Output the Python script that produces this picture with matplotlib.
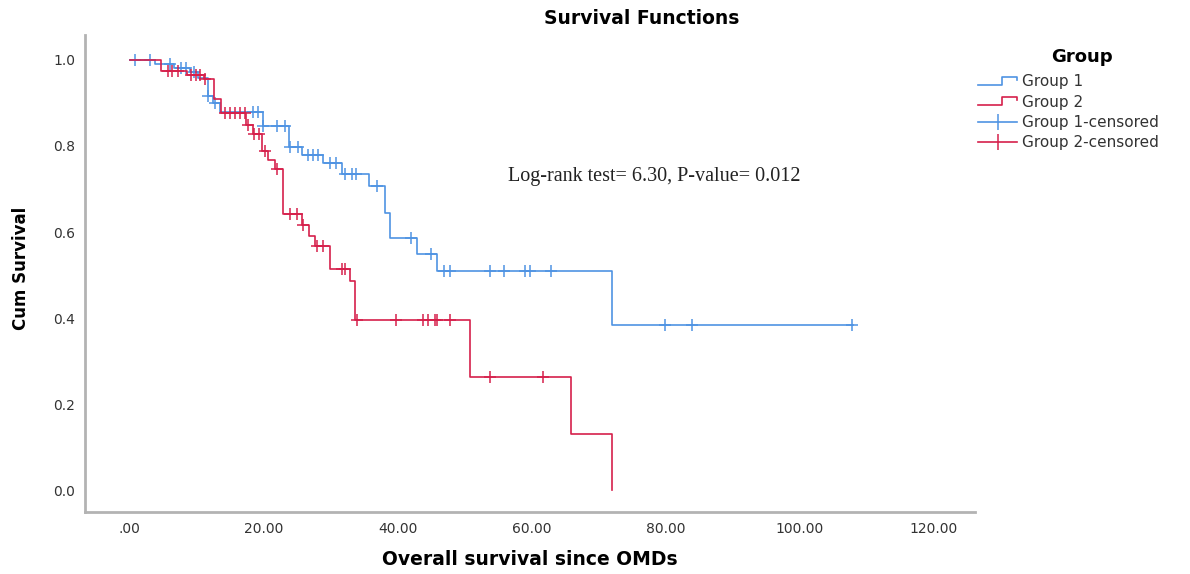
import numpy as np
import matplotlib
matplotlib.use("Agg")
import matplotlib.pyplot as plt
from matplotlib.lines import Line2D
from matplotlib.legend_handler import HandlerBase

# ---------------- data ----------------
g1_event_t = [3.7, 6.6, 9.0, 10.2, 11.6, 12.4, 13.4, 19.9, 23.8, 25.7, 28.9,
              31.6, 35.7, 38.1, 38.8, 42.8, 45.8, 72.0]
g1_event_s = [0.990, 0.982, 0.972, 0.958, 0.916, 0.899, 0.879, 0.847, 0.798,
              0.779, 0.760, 0.734, 0.707, 0.645, 0.585, 0.550, 0.509, 0.384]
g1_last_t = 108.0
g1_censor_t = [0.75, 3.0, 6.0, 7.6, 8.4, 9.6, 11.7, 12.7, 18.4, 19.1, 19.9,
               21.9, 23.1, 23.9, 25.1, 26.6, 27.3, 28.1, 29.9, 30.8, 32.1,
               33.1, 33.8, 36.9, 42.0, 45.0, 46.9, 47.8, 53.8, 55.8, 59.0,
               59.7, 62.9, 79.9, 83.9, 107.8]

g2_event_t = [4.6, 8.5, 11.0, 12.6, 13.6, 17.4, 18.4, 19.7, 20.6, 21.6, 22.9,
              25.7, 26.8, 27.6, 29.9, 32.8, 33.6, 50.8, 65.8, 71.9]
g2_event_s = [0.975, 0.964, 0.955, 0.909, 0.877, 0.848, 0.829, 0.788, 0.767,
              0.746, 0.641, 0.616, 0.591, 0.567, 0.513, 0.486, 0.395, 0.263,
              0.131, 0.0]
g2_censor_t = [5.7, 6.3, 7.2, 9.2, 9.9, 10.4, 11.2, 14.2, 14.9, 15.7, 16.4,
               17.2, 17.6, 18.6, 19.3, 20.2, 22.0, 23.9, 24.9, 25.9, 27.9,
               28.9, 31.6, 32.1, 33.9, 39.8, 43.8, 44.5, 45.5, 45.9, 47.8,
               53.7, 61.6]

x_ticks = [0, 20, 40, 60, 80, 100, 120]
x_tick_labels = [".00", "20.00", "40.00", "60.00", "80.00", "100.00", "120.00"]
y_ticks = [0.0, 0.2, 0.4, 0.6, 0.8, 1.0]
y_tick_labels = ["0.0", "0.2", "0.4", "0.6", "0.8", "1.0"]

group_labels = ["Group 1", "Group 2", "Group 1-censored", "Group 2-censored"]
stat_text = "Log-rank test= 6.30, P-value= 0.012"

# ---------------- style ----------------
BLUE = "#4f93e3"
RED = "#d6204b"
SPINE = "#b3b3b3"

plt.rcParams["font.family"] = ["DejaVu Sans"]


def surv_at(t, ev_t, ev_s):
    s = 1.0
    for et, es in zip(ev_t, ev_s):
        if et <= t:
            s = es
    return s


fig = plt.figure(figsize=(11.9, 5.74), dpi=100)
ax = fig.add_axes([0.0714, 0.108, 0.7476, 0.831])

# group 1 curve
x1 = [0.0] + g1_event_t + [g1_last_t]
y1 = [1.0] + g1_event_s + [g1_event_s[-1]]
ax.step(x1, y1, where="post", color=BLUE, lw=1.2)
c1y = [surv_at(t, g1_event_t, g1_event_s) for t in g1_censor_t]
ax.plot(g1_censor_t, c1y, ls="none", marker="+", ms=9, mew=1.1, color=BLUE)

# group 2 curve
x2 = [0.0] + g2_event_t
y2 = [1.0] + g2_event_s
ax.step(x2, y2, where="post", color=RED, lw=1.2)
c2y = [surv_at(t, g2_event_t, g2_event_s) for t in g2_censor_t]
ax.plot(g2_censor_t, c2y, ls="none", marker="+", ms=9, mew=1.1, color=RED)

ax.set_xlim(-6.7, 126.1)
ax.set_ylim(-0.051, 1.058)
ax.set_xticks(x_ticks)
ax.set_xticklabels(x_tick_labels)
ax.set_yticks(y_ticks)
ax.set_yticklabels(y_tick_labels)
ax.tick_params(length=0, labelsize=10, colors="#333333")
ax.tick_params(axis="x", pad=7)
ax.tick_params(axis="y", pad=7)
for side in ("top", "right"):
    ax.spines[side].set_visible(False)
for side in ("left", "bottom"):
    ax.spines[side].set_color(SPINE)
    ax.spines[side].set_linewidth(2.0)

ax.set_xlabel("Overall survival since OMDs", fontsize=13.5, fontweight="bold",
              va="center")
ax.xaxis.set_label_coords(0.5, -0.1006)
ax.set_ylabel("Cum Survival", fontsize=12, fontweight="bold")
ax.yaxis.set_label_coords(-0.062, 0.511)
fig.suptitle("Survival Functions", x=0.539, y=0.985, fontsize=13.5,
             fontweight="bold")

ax.text(56.4, 0.73, stat_text, family=["Liberation Serif", "DejaVu Serif"],
        fontsize=14.5, color="#222222", va="center", ha="left")


# legend with step-shaped handles
class StepHandler(HandlerBase):
    def create_artists(self, legend, orig_handle, xdescent, ydescent,
                       width, height, fontsize, trans):
        y0 = height * 0.15 - ydescent
        y1 = height * 0.85 - ydescent
        xs = [-xdescent, -xdescent + 0.6 * width, -xdescent + 0.6 * width,
              -xdescent + width, -xdescent + width]
        ys = [y0, y0, y1, y1, y1 - 0.25 * height]
        ln = Line2D(xs, ys, color=orig_handle.get_color(), lw=1.2)
        ln.set_transform(trans)
        return [ln]


h1 = Line2D([], [], color=BLUE)
h2 = Line2D([], [], color=RED)
h3 = Line2D([], [], color=BLUE, lw=1.2, marker="|", ms=11, mew=1.1)
h4 = Line2D([], [], color=RED, lw=1.2, marker="|", ms=11, mew=1.1)
leg = fig.legend([h1, h2, h3, h4], group_labels,
                 handler_map={h1: StepHandler(), h2: StepHandler()},
                 loc="upper left", bbox_to_anchor=(0.8165, 0.922),
                 frameon=False, fontsize=11, title="Group",
                 title_fontproperties={"size": 13, "weight": "bold"},
                 handlelength=2.6, handletextpad=0.3, labelspacing=0.35,
                 borderaxespad=0.0)
leg._legend_box.align = "center"
leg.get_title().set_position((14, 3))
for t in leg.get_texts():
    t.set_color("#333333")

fig.savefig("out.png", dpi=100, facecolor="white")
